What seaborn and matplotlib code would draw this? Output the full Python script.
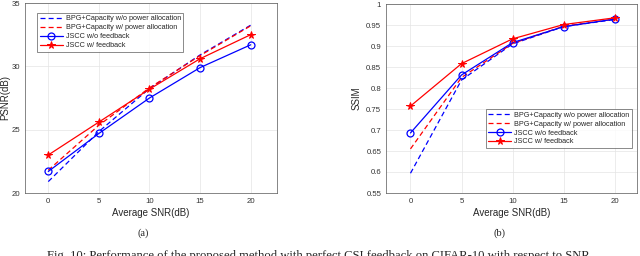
import numpy as np
import pandas as pd
import seaborn as sns
import matplotlib
matplotlib.use("Agg")
import matplotlib.pyplot as plt

snr = [0, 5, 10, 15, 20]
labels = ["BPG+Capacity w/o power allocation", "BPG+Capacity w/ power allocation",
          "JSCC w/o feedback", "JSCC w/ feedback"]
psnr_bpg_wo = [20.9, 24.85, 28.25, 30.9, 33.25]
psnr_bpg_w = [21.8, 25.35, 28.3, 30.85, 33.2]
psnr_jscc_wo = [21.7, 24.7, 27.5, 29.9, 31.7]
psnr_jscc_w = [23.0, 25.6, 28.2, 30.6, 32.5]

ssim_bpg_wo = [0.597, 0.819, 0.905, 0.946, 0.963]
ssim_bpg_w = [0.655, 0.825, 0.906, 0.947, 0.964]
ssim_jscc_wo = [0.693, 0.831, 0.908, 0.946, 0.964]
ssim_jscc_w = [0.757, 0.858, 0.917, 0.951, 0.967]

sns.set_style("whitegrid")
plt.rcParams['font.family'] = ['Liberation Sans', 'DejaVu Sans']

fig = plt.figure(figsize=(6.4, 2.56), dpi=100)
ax1 = fig.add_axes([25/640, 1-193/256, 252/640, 190/256])
ax2 = fig.add_axes([386/640, 1-193/256, 251/640, 189/256])

styles = [
    dict(color="#0000ff", ls=(0, (4, 2.5)), marker="None", mfc="none", ms=0, mew=0),
    dict(color="#ff0000", ls=(0, (4, 2.5)), marker="None", mfc="none", ms=0, mew=0),
    dict(color="#0000ff", ls="-", marker="o", mfc="none", ms=5, mew=0.9),
    dict(color="#ff0000", ls="-", marker="*", mfc="#ff0000", ms=5.5, mew=0.7),
]

def draw(ax, series):
    for lab, ys, st in zip(labels, series, styles):
        df = pd.DataFrame({"x": snr, "y": ys})
        sns.lineplot(data=df, x="x", y="y", ax=ax, label=lab, color=st["color"], linewidth=0.9)
        ln = ax.lines[-1]
        ln.set_linestyle(st["ls"])
        ln.set_marker(st["marker"])
        ln.set_markerfacecolor(st["mfc"])
        ln.set_markeredgecolor(st["color"])
        ln.set_markersize(st["ms"])
        ln.set_markeredgewidth(st["mew"])

draw(ax1, [psnr_bpg_wo, psnr_bpg_w, psnr_jscc_wo, psnr_jscc_w])
draw(ax2, [ssim_bpg_wo, ssim_bpg_w, ssim_jscc_wo, ssim_jscc_w])

ax1.set_xlim(-2.3, 22.6)
ax1.set_ylim(20, 35)
ax1.set_yticks([20, 25, 30, 35])
ax2.set_xlim(-2.4, 22.2)
ax2.set_ylim(0.55, 1.0)
ax2.set_yticks(np.arange(0.55, 1.001, 0.05))
ax2.set_yticklabels(["0.55", "0.6", "0.65", "0.7", "0.75", "0.8", "0.85", "0.9", "0.95", "1"])
ax1.set_ylabel("PSNR(dB)", fontsize=7, labelpad=1)
ax2.set_ylabel("SSIM", fontsize=7, labelpad=3)

for ax in (ax1, ax2):
    ax.set_xticks(snr)
    ax.set_xlabel("Average SNR(dB)", fontsize=7, labelpad=2)
    ax.tick_params(axis="both", labelsize=5.6, direction="in", length=2, width=0.5,
                   color="#444444", pad=3.5, labelcolor="#333333")
    ax.grid(True, color="#e4e4e4", linewidth=0.5)
    for s in ax.spines.values():
        s.set_visible(True)
        s.set_color("#555555")
        s.set_linewidth(0.5)
    ax.set_facecolor("white")

legkw = dict(fontsize=5.2, frameon=True, fancybox=False, edgecolor="#333333",
             handlelength=3.2, borderpad=0.35, labelspacing=0.25, handletextpad=0.4,
             borderaxespad=0)
leg1 = ax1.legend(loc="upper left", bbox_to_anchor=(0.048, 0.948), **legkw)
leg1.get_frame().set_linewidth(0.5)
leg2 = ax2.legend(loc="lower right", bbox_to_anchor=(0.98, 0.238), **legkw)
leg2.get_frame().set_linewidth(0.5)

fig.text(143/640, 1-233/256, "(a)", fontsize=7.5, ha="center", va="center", family="Liberation Serif")
fig.text(500/640, 1-233/256, "(b)", fontsize=7.5, ha="center", va="center", family="Liberation Serif")
fig.text(320/640, 1-250.5/256,
         "Fig. 10: Performance of the proposed method with perfect CSI feedback on CIFAR-10 with respect to SNR.",
         fontsize=9.1, ha="center", va="top", family="Liberation Serif")

fig.savefig("out.png", dpi=100, facecolor="white")
